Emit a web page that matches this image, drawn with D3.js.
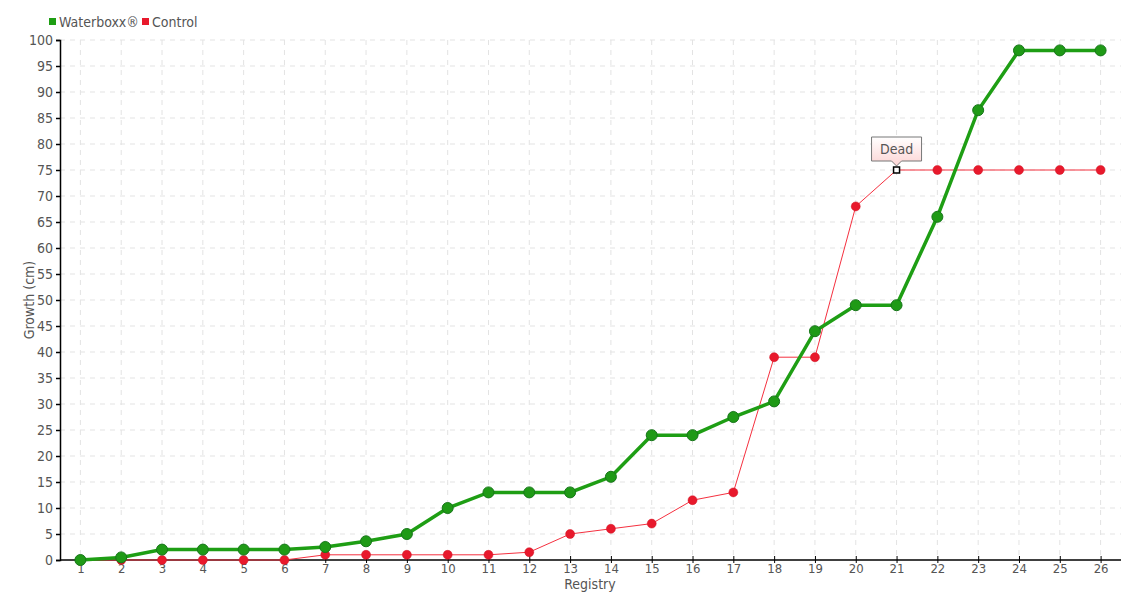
<!DOCTYPE html>
<html><head><meta charset="utf-8">
<script src="https://cdn.jsdelivr.net/npm/d3@7"></script>
<style>
body{margin:0;background:#fff;}
text{font-family:"DejaVu Sans Condensed","DejaVu Sans",sans-serif;font-stretch:condensed;fill:#555;}
</style></head>
<body><svg id="c" width="1140" height="600"></svg>
<script>
const categories = ["1","2","3","4","5","6","7","8","9","10","11","12","13","14","15","16","17","18","19","20","21","22","23","24","25","26"];
const waterboxx = [0,0.5,2,2,2,2,2.5,3.6,5,10,13,13,13,16,24,24,27.5,30.5,44,49,49,66,86.5,98,98,98];
const control = [0,0,0,0,0,0,1,1,1,1,1,1.5,5,6,7,11.5,13,39,39,68,75,75,75,75,75,75];
const yTicks = d3.range(0,101,5);
const seriesNames = ["Waterboxx®","Control"];
const tooltipText = "Dead";
const tooltipIndex = 20;

const svg = d3.select("#c");
const L=60,R=1121,T=40,B=560;
const x = d3.scalePoint().domain(categories).range([L,R]).padding(0.5);
const y = d3.scaleLinear().domain([0,100]).range([B,T]);

const grid = svg.append("g");
grid.selectAll("line.h").data(yTicks.filter(d=>d>0)).join("line")
  .attr("x1",L).attr("x2",R).attr("y1",d=>y(d)).attr("y2",d=>y(d))
  .attr("stroke","#e3e3e3").attr("stroke-dasharray","5,5");
grid.selectAll("line.v").data(categories).join("line")
  .attr("x1",d=>x(d)).attr("x2",d=>x(d)).attr("y1",T).attr("y2",B)
  .attr("stroke","#e3e3e3").attr("stroke-dasharray","5,5");

const yAxis = svg.append("g").attr("transform",`translate(${L},0)`)
  .call(d3.axisLeft(y).tickValues(yTicks).tickSize(4).tickPadding(3));
yAxis.select(".domain").attr("stroke","#000").attr("stroke-width",1.5);
yAxis.selectAll(".tick line").attr("stroke","#000").attr("stroke-width",1.5);
yAxis.selectAll("text").attr("font-size",14).attr("fill","#555");

const xAxis = svg.append("g").attr("transform",`translate(0,${B})`)
  .call(d3.axisBottom(x).tickSize(4).tickPadding(0).tickSizeOuter(0));
xAxis.select(".domain").attr("stroke","#000").attr("stroke-width",1.5).attr("d",`M${L},0H${R}`);
xAxis.selectAll(".tick line").attr("stroke","#000").attr("y1",-4).attr("y2",3);
xAxis.selectAll("text").attr("font-size",13).attr("fill","#555");

svg.append("text").attr("x",590).attr("y",589).attr("text-anchor","middle").attr("font-size",14).text("Registry");
svg.append("text").attr("transform","translate(34,300) rotate(-90)").attr("text-anchor","middle").attr("font-size",14).text("Growth (cm)");

const line = d3.line().x((d,i)=>x(categories[i])).y(d=>y(d));
svg.append("path").datum(control).attr("d",line).attr("fill","none").attr("stroke","#f5303f").attr("stroke-width",1);
svg.append("path").datum(waterboxx).attr("d",line).attr("fill","none").attr("stroke","#1e9e14").attr("stroke-width",3.5);

svg.append("g").selectAll("circle").data(control).join("circle")
  .attr("cx",(d,i)=>x(categories[i])).attr("cy",d=>y(d)).attr("r",(d,i)=>i===tooltipIndex?0:4.5)
  .attr("fill","#e8192c").attr("stroke","#d01525").attr("stroke-width",0.5);
svg.append("g").selectAll("circle").data(waterboxx).join("circle")
  .attr("cx",(d,i)=>x(categories[i])).attr("cy",d=>y(d)).attr("r",5.5)
  .attr("fill","#1f9a16").attr("stroke","#17761a").attr("stroke-width",1);

// hovered point
const hx = x(categories[tooltipIndex]), hy = y(control[tooltipIndex]);
svg.append("rect").attr("x",hx-3).attr("y",hy-3).attr("width",6).attr("height",6)
  .attr("fill","#fff").attr("stroke","#000").attr("stroke-width",1.5);

// tooltip
const defs = svg.append("defs");
const gr = defs.append("linearGradient").attr("id","tg").attr("x1",0).attr("y1",0).attr("x2",0).attr("y2",1);
gr.append("stop").attr("offset","0%").attr("stop-color","#ffffff");
gr.append("stop").attr("offset","100%").attr("stop-color","#fcd4d4");
const bw=50,bh=24,bx=hx-25,by=hy-33;
svg.append("path")
  .attr("d",`M${bx},${by}H${bx+bw}V${by+bh}H${hx+5}L${hx},${by+bh+5}L${hx-5},${by+bh}H${bx}Z`)
  .attr("fill","url(#tg)").attr("stroke","#777").attr("stroke-width",1);
svg.append("text").attr("x",hx).attr("y",by+17).attr("text-anchor","middle").attr("font-size",14).text(tooltipText);

// legend
const colors=["#1e9e14","#e8192c"];
const lg = svg.append("g");
const lx=[49,142];
seriesNames.forEach((n,i)=>{
  lg.append("rect").attr("x",lx[i]).attr("y",18).attr("width",7).attr("height",7).attr("fill",colors[i]);
  lg.append("text").attr("x",lx[i]+10).attr("y",27).attr("font-size",14).text(n);
});
</script></body></html>
